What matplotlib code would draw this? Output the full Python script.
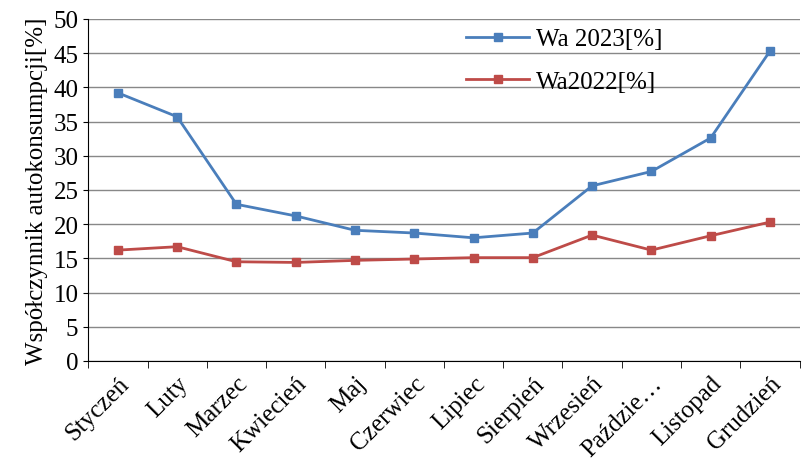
import matplotlib.pyplot as plt
import numpy as np

plt.rcParams['font.family'] = ['Liberation Serif', 'DejaVu Serif']

months = ['Styczeń', 'Luty', 'Marzec', 'Kwiecień', 'Maj', 'Czerwiec', 'Lipiec',
          'Sierpień', 'Wrzesień', 'Październik', 'Listopad', 'Grudzień']
tick_labels = months[:9] + ['Paździe…'] + months[10:]
wa2023 = [39.2, 35.7, 22.9, 21.2, 19.1, 18.7, 18.0, 18.7, 25.6, 27.7, 32.6, 45.3]
wa2022 = [16.2, 16.7, 14.5, 14.4, 14.7, 14.9, 15.1, 15.1, 18.4, 16.2, 18.3, 20.3]

fig = plt.figure(figsize=(8.02, 4.64), dpi=100)
ax = fig.add_axes([0.11, 0.22, 0.887, 0.737])
x = np.arange(len(months))
ax.plot(x, wa2023, '-s', color='#4a7ebb', markersize=6, linewidth=2, label='Wa 2023[%]')
ax.plot(x, wa2022, '-s', color='#be4b48', markersize=6, linewidth=2, label='Wa2022[%]')

ax.set_xlim(-0.5, 11.5)
ax.set_ylim(0, 50)
ax.set_yticks(range(0, 51, 5))
ax.set_xticks(x)
ax.set_xticklabels(tick_labels, rotation=45, ha='right', rotation_mode='anchor', fontsize=18)
ax.tick_params(axis='y', labelsize=18)
ax.set_xticks(np.arange(-0.5, 12, 1), minor=True)
ax.tick_params(axis='x', which='major', length=0, pad=8)
ax.tick_params(axis='x', which='minor', length=5)
ax.grid(axis='y', color='#888888', linewidth=1)
ax.set_axisbelow(True)
for s in ['top', 'right']:
    ax.spines[s].set_visible(False)
ax.set_ylabel('Współczynnik autokonsumpcji[%]', fontsize=18, labelpad=4)
ax.legend(loc='upper left', bbox_to_anchor=(0.5, 1.04), frameon=False, fontsize=18,
          labelspacing=0.8, handlelength=2.5, handletextpad=0.3)
fig.savefig('out.png')
